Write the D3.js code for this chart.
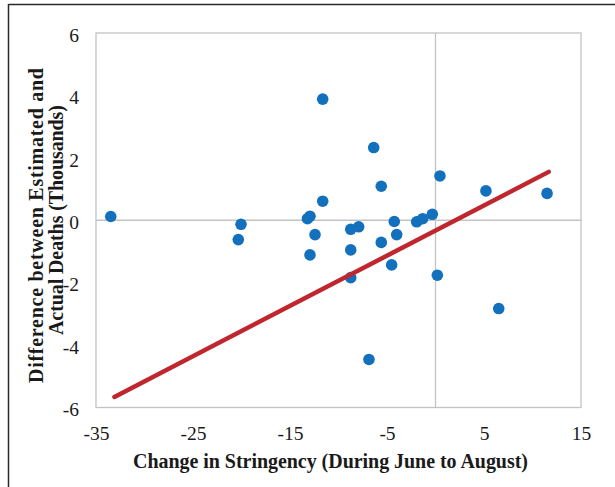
<!DOCTYPE html>
<html><head><meta charset="utf-8">
<script src="https://cdn.jsdelivr.net/npm/d3@7"></script>
<style>html,body{margin:0;padding:0;background:#fff}svg{display:block}</style>
</head><body>
<svg id="chart" width="615" height="487"></svg>
<script>
const stringencyChange = [-33.48,-20.05,-20.33,-13.2,-12.94,-12.42,-12.94,-11.63,-11.63,-8.74,-7.92,-8.74,-8.74,-6.86,-6.37,-5.59,-5.59,-4.25,-4.0,-4.52,-1.94,-1.32,-0.33,0.19,0.46,5.2,6.52,11.5];
const deathDiff = [0.12,-0.13,-0.62,0.05,0.13,-0.46,-1.11,0.61,3.88,-0.29,-0.21,-0.95,-1.84,-4.46,2.33,1.09,-0.71,-0.04,-0.46,-1.43,-0.05,0.05,0.19,-1.76,1.42,0.94,-2.83,0.86];
const trendX = [-33.1, 11.67];
const trendY = [-5.66, 1.55];
const xTicks = [-35,-25,-15,-5,5,15];
const yTicks = [6,4,2,0,-2,-4,-6];
const xTitle = "Change in Stringency (During June to August)";
const yTitleLines = ["Difference between Estimated and","Actual Deaths (Thousands)"];

const svg = d3.select("#chart");
const L=96, R=581, T=33, B=407.5;
const x = d3.scaleLinear().domain([-35,15]).range([L,R]);
const y = d3.scaleLinear().domain([-6,6]).range([B,T]);
const serif = "'Liberation Serif','Times New Roman',serif";
const fmt = d => String(d); // plain hyphen minus

// outer frame lines
svg.append("line").attr("x1",8.5).attr("x2",615).attr("y1",4.5).attr("y2",4.5).attr("stroke","#2a2a2a").attr("stroke-width",1.5);
svg.append("line").attr("x1",8.5).attr("x2",8.5).attr("y1",4).attr("y2",487).attr("stroke","#2a2a2a").attr("stroke-width",1.5);

// plot area border
svg.append("rect").attr("x",L).attr("y",T).attr("width",R-L).attr("height",B-T)
  .attr("fill","none").attr("stroke","#c3c3c3").attr("stroke-width",1.3);
// zero axes
svg.append("line").attr("x1",x(0)).attr("x2",x(0)).attr("y1",T).attr("y2",B).attr("stroke","#c3c3c3").attr("stroke-width",1.3);
svg.append("line").attr("x1",L).attr("x2",R).attr("y1",y(0)).attr("y2",y(0)).attr("stroke","#c3c3c3").attr("stroke-width",1.3);

// tick labels via axes
const xAxis = svg.append("g").attr("transform",`translate(0,${B})`)
  .call(d3.axisBottom(x).tickValues(xTicks).tickSize(0).tickPadding(18.7).tickFormat(fmt));
const yAxis = svg.append("g").attr("transform",`translate(${L},0)`)
  .call(d3.axisLeft(y).tickValues(yTicks).tickSize(0).tickPadding(17).tickFormat(fmt));
[xAxis,yAxis].forEach(a=>{
  a.select(".domain").remove();
  a.selectAll("text").attr("font-family",serif).attr("font-size",19.5).attr("fill","#1a1a1a");
});
yAxis.selectAll("text").attr("dy","0.42em");

// points
svg.append("g").selectAll("circle").data(stringencyChange.map((v,i)=>[v,deathDiff[i]])).join("circle")
  .attr("cx",d=>x(d[0])).attr("cy",d=>y(d[1])).attr("r",5.8).attr("fill","#1370bd");

// trend line
svg.append("line").attr("x1",x(trendX[0])).attr("y1",y(trendY[0])).attr("x2",x(trendX[1])).attr("y2",y(trendY[1]))
  .attr("stroke","#c0262d").attr("stroke-width",4.5).attr("stroke-linecap","round");

// titles
svg.append("text").attr("x",330.5).attr("y",468).attr("text-anchor","middle")
  .attr("font-family",serif).attr("font-weight","bold").attr("font-size",20).attr("fill","#1a1a1a")
  .attr("textLength",395).attr("lengthAdjust","spacing").text(xTitle);
const yt = svg.append("g").attr("font-family",serif).attr("font-weight","bold").attr("font-size",20).attr("fill","#1a1a1a");
yt.append("text").attr("transform","translate(43,225.5) rotate(-90)").attr("text-anchor","middle")
  .attr("textLength",315).attr("lengthAdjust","spacing").text(yTitleLines[0]);
yt.append("text").attr("transform","translate(63,220) rotate(-90)").attr("text-anchor","middle")
  .attr("textLength",230).attr("lengthAdjust","spacing").text(yTitleLines[1]);
</script>
</body></html>
